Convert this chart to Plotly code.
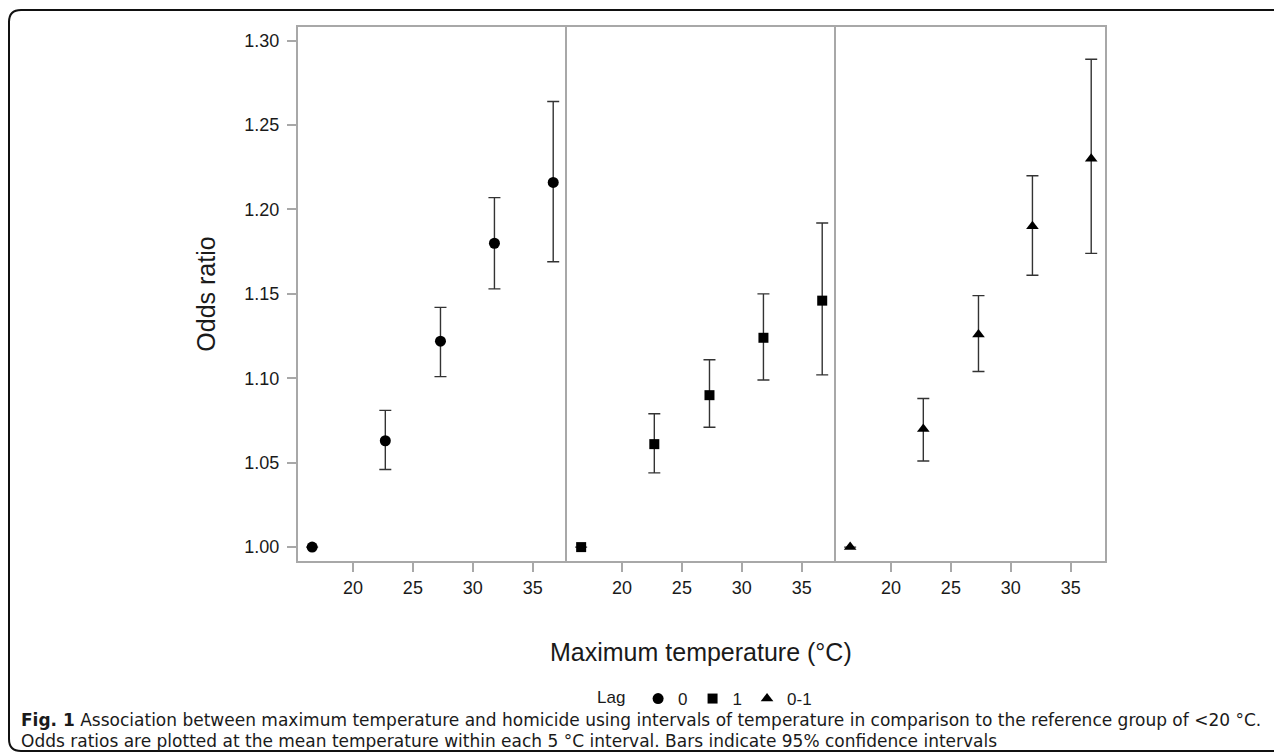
import plotly.graph_objects as go
from plotly.subplots import make_subplots

# page body has an 8px margin: figure drawn in page coords minus OFF
OFF = 8
W, H = 1282 - OFF, 753 - OFF
L, R, T, B = 298 - OFF, 1105 - OFF, 27 - OFF, 561 - OFF

temps = [16.6, 22.7, 27.3, 31.8, 36.7]

lag0_or = [1.000, 1.063, 1.122, 1.180, 1.216]
lag0_lo = [1.000, 1.046, 1.101, 1.153, 1.169]
lag0_hi = [1.000, 1.081, 1.142, 1.207, 1.264]

lag1_or = [1.000, 1.061, 1.090, 1.124, 1.146]
lag1_lo = [1.000, 1.044, 1.071, 1.099, 1.102]
lag1_hi = [1.000, 1.079, 1.111, 1.150, 1.192]

lag01_or = [1.000, 1.070, 1.126, 1.190, 1.230]
lag01_lo = [1.000, 1.051, 1.104, 1.161, 1.174]
lag01_hi = [1.000, 1.088, 1.149, 1.220, 1.289]

series = [
    ("0", "circle", 11, lag0_or, lag0_lo, lag0_hi),
    ("1", "square", 10, lag1_or, lag1_lo, lag1_hi),
    ("0-1", "triangle-up", 11, lag01_or, lag01_lo, lag01_hi),
]

x_ticks = [20, 25, 30, 35]
y_ticks = [1.00, 1.05, 1.10, 1.15, 1.20, 1.25, 1.30]

GRAY = "#a8a8a8"
TXT = "#1a1a1a"
FONT = "Liberation Sans, Arial, sans-serif"
CAP_FONT = "DejaVu Sans, sans-serif"


def px2x(px):
    return (px - OFF - L) / (R - L)


def px2y(py):
    return (B - (py - OFF)) / (B - T)


fig = make_subplots(rows=1, cols=3, shared_yaxes=True, horizontal_spacing=0)

for i, (name, sym, sz, orr, lo, hi) in enumerate(series):
    fig.add_trace(go.Scatter(
        x=temps, y=orr, mode="markers", showlegend=False,
        marker=dict(symbol=sym, size=sz, color="black"),
        error_y=dict(type="data", symmetric=False,
                     array=[h - o for h, o in zip(hi, orr)],
                     arrayminus=[o - l for o, l in zip(orr, lo)],
                     color="#333333", thickness=1.4, width=6),
    ), row=1, col=i + 1)

for name, sym, sz, *_ in series:
    fig.add_trace(go.Scatter(
        x=[None], y=[None], mode="markers", name=name,
        marker=dict(symbol=sym, size=sz, color="black"),
    ), row=1, col=1)

for i in range(3):
    fig.update_xaxes(
        row=1, col=i + 1, range=[15.42, 37.85], tickvals=x_ticks,
        showgrid=False, zeroline=False, showline=True, mirror=True,
        linecolor=GRAY, linewidth=2, ticks="outside", ticklen=9,
        tickcolor=GRAY, tickwidth=1.5,
        tickfont=dict(size=18, color=TXT, family=FONT),
    )
fig.update_yaxes(
    range=[0.99177, 1.3081], tickvals=y_ticks, tickformat=".2f",
    showgrid=False, zeroline=False, showline=True, mirror=False,
    linecolor=GRAY, linewidth=2, tickcolor=GRAY, tickwidth=1.5,
    tickfont=dict(size=18, color=TXT, family=FONT),
)
fig.update_yaxes(row=1, col=3, mirror=True)
fig.update_yaxes(row=1, col=1, ticks="outside", ticklen=9, ticklabelstandoff=4,
                 title=dict(text="Odds ratio", standoff=22,
                            font=dict(size=25, color=TXT, family=FONT)))

annotations = [
    dict(text="Maximum temperature (°C)", x=px2x(701), y=px2y(652), xref="paper",
         yref="paper", showarrow=False, xanchor="center", yanchor="middle",
         font=dict(size=25, color=TXT, family=FONT)),
    dict(text="<b>Fig. 1</b> Association between maximum temperature and homicide using intervals of temperature in comparison to the reference group of <20 °C.",
         x=px2x(19), y=px2y(720), xref="paper", yref="paper", showarrow=False,
         xanchor="left", yanchor="middle",
         font=dict(size=17.0, color=TXT, family=CAP_FONT)),
    dict(text="Odds ratios are plotted at the mean temperature within each 5 °C interval. Bars indicate 95% confidence intervals",
         x=px2x(19), y=px2y(741), xref="paper", yref="paper", showarrow=False,
         xanchor="left", yanchor="middle",
         font=dict(size=17.0, color=TXT, family=CAP_FONT)),
]

fx, fy, fb = 9, 10, 751
r = 12
frame_path = (
    f"M {px2x(1300)},{px2y(fb)} L {px2x(fx + r)},{px2y(fb)} "
    f"Q {px2x(fx)},{px2y(fb)} {px2x(fx)},{px2y(fb - r)} "
    f"L {px2x(fx)},{px2y(fy + r)} "
    f"Q {px2x(fx)},{px2y(fy)} {px2x(fx + r)},{px2y(fy)} "
    f"L {px2x(1300)},{px2y(fy)}"
)

fig.update_layout(
    width=W, height=H,
    margin=dict(l=L, r=W - R, t=T, b=H - B, pad=0),
    paper_bgcolor="white", plot_bgcolor="white",
    font=dict(family=FONT, color=TXT),
    annotations=annotations,
    shapes=[dict(type="path", path=frame_path, xref="paper", yref="paper",
                 line=dict(color="#111111", width=2))],
    legend=dict(orientation="h", x=px2x(595), xanchor="left", y=px2y(699),
                yanchor="middle",
                title=dict(text="Lag ", font=dict(size=17, family=FONT, color=TXT)),
                font=dict(size=17, color=TXT, family=FONT),
                itemwidth=30, bgcolor="rgba(0,0,0,0)", tracegroupgap=0),
)

fig.write_html("out.html")
